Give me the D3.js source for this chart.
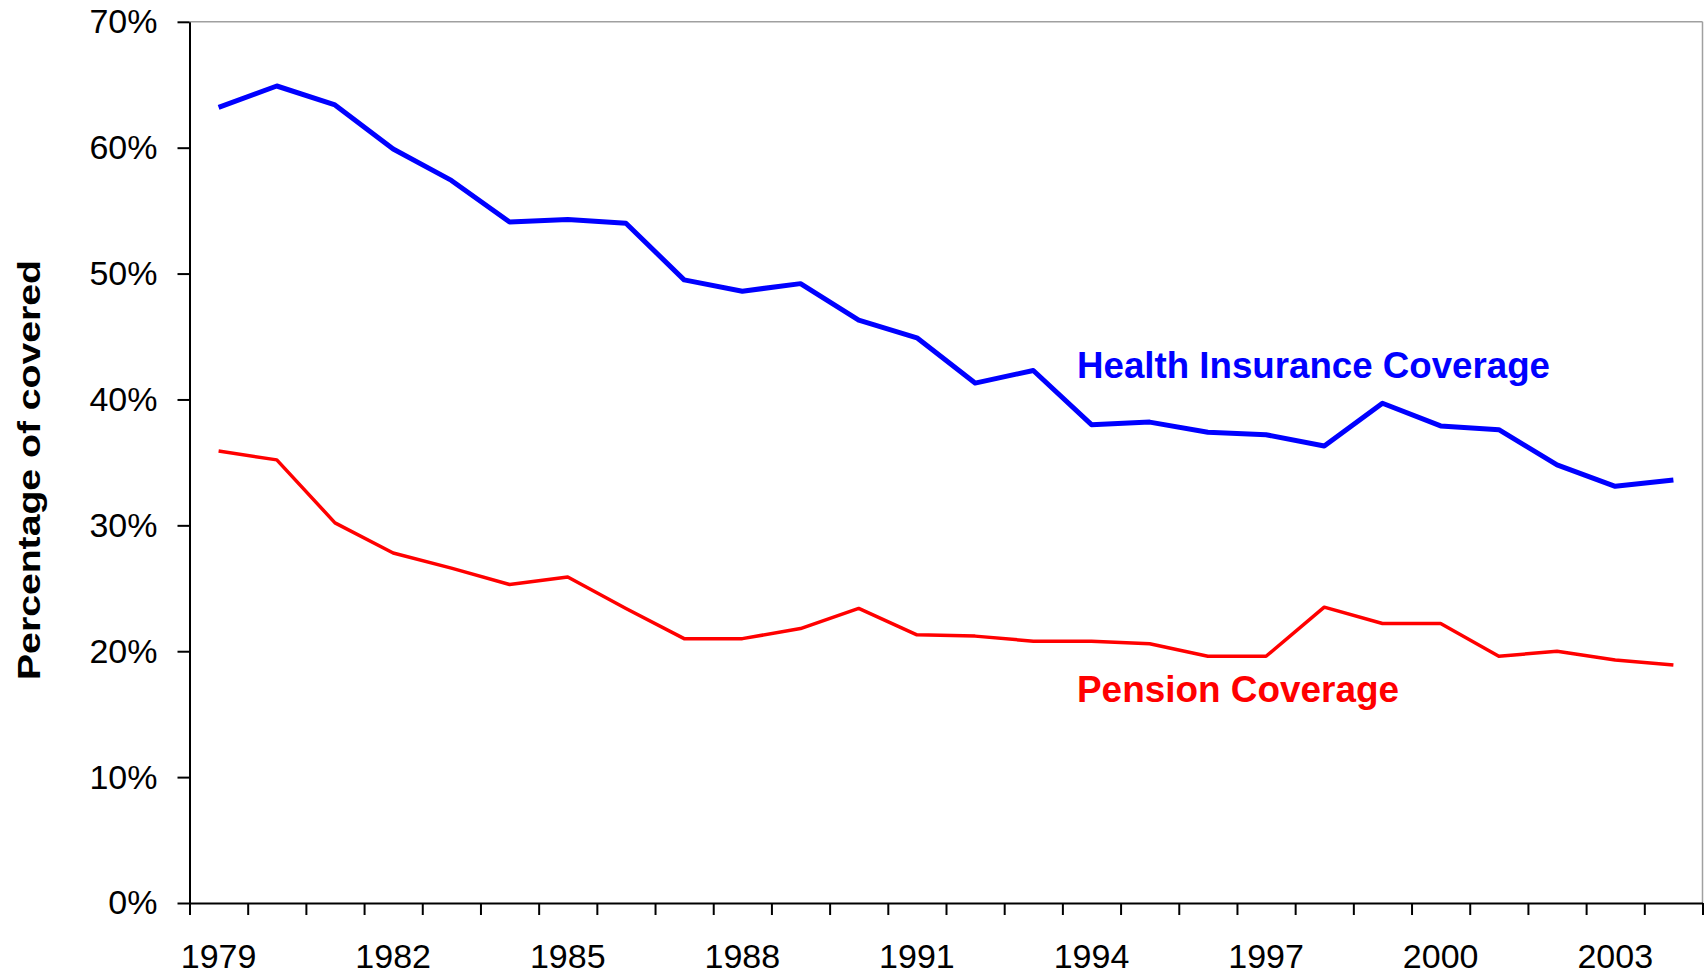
<!DOCTYPE html>
<html>
<head>
<meta charset="utf-8">
<script src="https://cdn.jsdelivr.net/npm/d3@7"></script>
<style>
  body { margin: 0; background: #fff; }
  svg { display: block; font-family: "Liberation Sans", Arial, sans-serif; }
</style>
</head>
<body>
<div id="chart"></div>
<script>
// data
var years = d3.range(1979, 2005);
var labelYears = [1979, 1982, 1985, 1988, 1991, 1994, 1997, 2000, 2003];
var yTicks = [0, 10, 20, 30, 40, 50, 60, 70];

var health = [63.2, 64.9, 63.4, 59.9, 57.4, 54.1, 54.3, 54.0, 49.5, 48.6, 49.2, 46.3, 44.9,
              41.3, 42.3, 38.0, 38.2, 37.4, 37.2, 36.3, 39.7, 37.9, 37.6, 34.8, 33.1, 33.6];
var pension = [35.9, 35.2, 30.2, 27.8, 26.6, 25.3, 25.9, 23.4, 21.0, 21.0, 21.8, 23.4, 21.3,
               21.2, 20.8, 20.8, 20.6, 19.6, 19.6, 23.5, 22.2, 22.2, 19.6, 20.0, 19.3, 18.9];

var width = 1708, height = 975;
// plot area edges (note: "top" is reserved on window, so use a prefix)
var plotL = 189.5, plotR = 1702.5, plotT = 21.8, plotB = 903;

var svg = d3.select("#chart")
  .append("svg")
    .attr("width", width)
    .attr("height", height);

var x = d3.scaleBand().domain(years).range([plotL, plotR]).padding(0);
var xEdge = d3.scaleLinear().domain([0, years.length]).range([plotL, plotR]);
var y = d3.scaleLinear().domain([0, 70]).range([plotB, plotT]);

// plot border (top and right, gray)
svg.append("line")
    .attr("x1", plotL).attr("x2", plotR).attr("y1", plotT).attr("y2", plotT)
    .attr("stroke", "#a0a0a0").attr("stroke-width", 1.5);
svg.append("line")
    .attr("x1", plotR).attr("x2", plotR).attr("y1", plotT).attr("y2", plotB)
    .attr("stroke", "#a0a0a0").attr("stroke-width", 1.5);

// y axis
var yAxis = svg.append("g")
    .attr("transform", "translate(" + plotL + ",0)")
    .call(d3.axisLeft(y).tickValues(yTicks).tickFormat(function(d) { return d + "%"; })
      .tickSize(12).tickPadding(20).tickSizeOuter(0));
yAxis.selectAll("text").attr("font-size", 34).attr("fill", "#000").attr("font-family", "Liberation Sans, Arial, sans-serif");
yAxis.selectAll("line, path").attr("stroke", "#000").attr("stroke-width", 2);

// x axis tick marks at category edges
var xTicks = svg.append("g")
    .attr("transform", "translate(0," + plotB + ")")
    .call(d3.axisBottom(xEdge).tickValues(d3.range(years.length + 1)).tickFormat("")
      .tickSize(12).tickSizeOuter(0));
xTicks.selectAll("line, path").attr("stroke", "#000").attr("stroke-width", 2);

// x labels at category centres
var xLabels = svg.append("g")
    .attr("transform", "translate(0," + plotB + ")")
    .call(d3.axisBottom(x).tickValues(labelYears).tickSize(0).tickPadding(41));
xLabels.select(".domain").remove();
xLabels.selectAll("text").attr("font-size", 34).attr("fill", "#000").attr("font-family", "Liberation Sans, Arial, sans-serif");

// lines
var line = d3.line()
    .x(function(d, i) { return x(years[i]) + x.bandwidth() / 2; })
    .y(function(d) { return y(d); });

svg.append("path")
    .datum(health)
    .attr("d", line)
    .attr("fill", "none")
    .attr("stroke", "#0000ff")
    .attr("stroke-width", 5)
    .attr("stroke-linejoin", "round");

svg.append("path")
    .datum(pension)
    .attr("d", line)
    .attr("fill", "none")
    .attr("stroke", "#ff0000")
    .attr("stroke-width", 3.5)
    .attr("stroke-linejoin", "round");

// series labels
svg.append("text")
    .attr("x", 1077).attr("y", 378)
    .attr("font-size", 36).attr("font-weight", "bold")
    .attr("fill", "#0000ff")
    .attr("textLength", 473).attr("lengthAdjust", "spacingAndGlyphs")
    .text("Health Insurance Coverage");

svg.append("text")
    .attr("x", 1077).attr("y", 702)
    .attr("font-size", 36).attr("font-weight", "bold")
    .attr("fill", "#ff0000")
    .attr("textLength", 322).attr("lengthAdjust", "spacingAndGlyphs")
    .text("Pension Coverage");

// y title
svg.append("text")
    .attr("transform", "translate(40,470) rotate(-90)")
    .attr("text-anchor", "middle")
    .attr("font-size", 32).attr("font-weight", "bold")
    .attr("fill", "#000")
    .attr("textLength", 420).attr("lengthAdjust", "spacingAndGlyphs")
    .text("Percentage of covered");
</script>
</body>
</html>
